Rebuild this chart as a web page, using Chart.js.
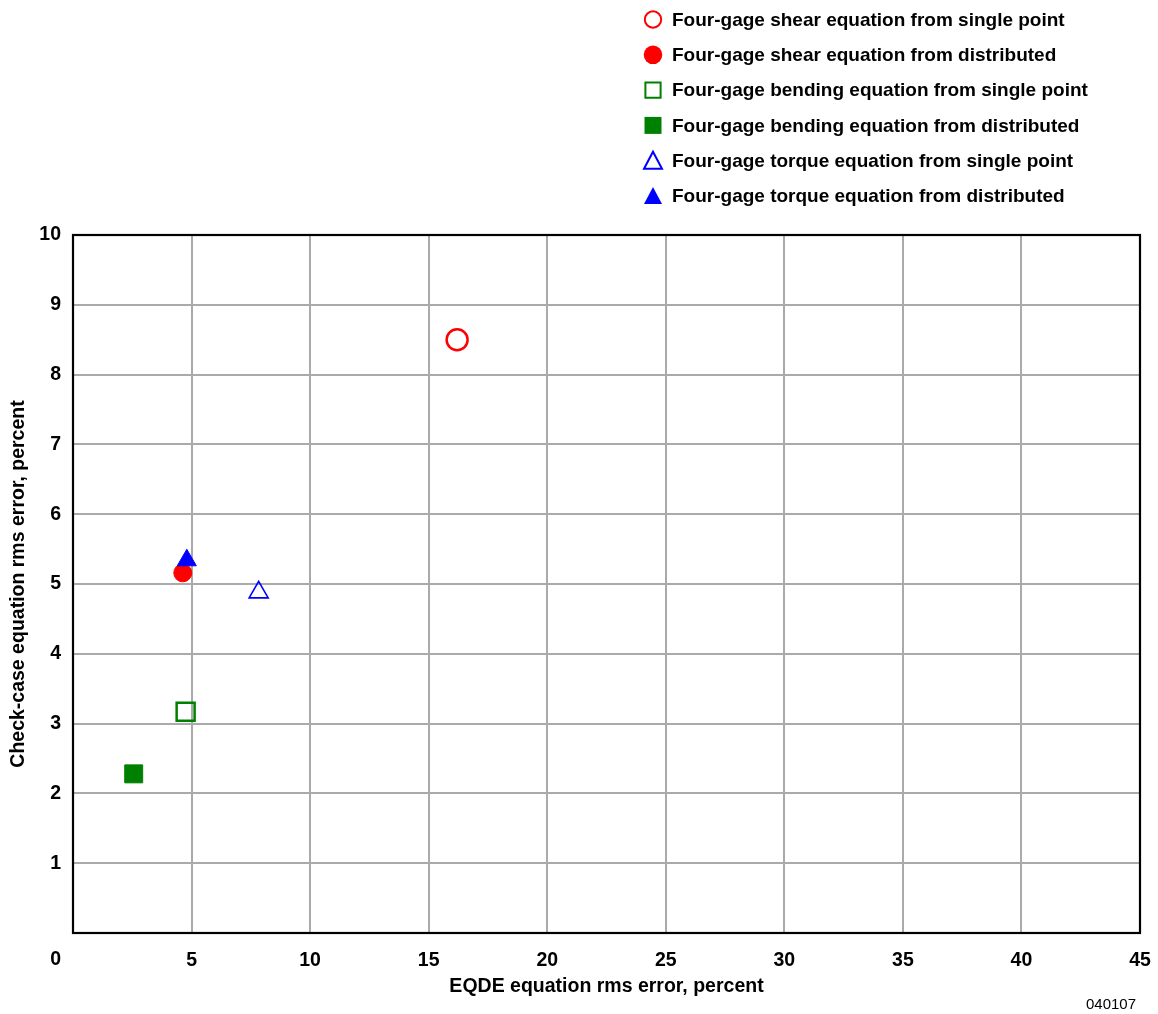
<!DOCTYPE html>
<html>
<head>
<meta charset="utf-8">
<title>Check-case vs EQDE rms error</title>
<script src="https://cdn.jsdelivr.net/npm/chart.js@4/dist/chart.umd.min.js"></script>
<style>
  html, body { margin: 0; padding: 0; background: #ffffff; }
  #wrap { width: 1158px; height: 1014px; position: relative; }
</style>
</head>
<body>
<div id="wrap"><canvas id="chart" width="1158" height="1014"></canvas></div>
<script>
// Series definitions
const seriesLabels = [
  'Four-gage shear equation from single point',
  'Four-gage shear equation from distributed',
  'Four-gage bending equation from single point',
  'Four-gage bending equation from distributed',
  'Four-gage torque equation from single point',
  'Four-gage torque equation from distributed'
];
// EQDE equation rms error, percent (x)
const eqdeError = [16.2, 4.63, 4.75, 2.56, 7.83, 4.80];
// Check-case equation rms error, percent (y)
const checkCaseError = [8.50, 5.16, 3.17, 2.28, 4.88, 5.34];

const xTickValues = [0, 5, 10, 15, 20, 25, 30, 35, 40, 45];
const yTickValues = [0, 1, 2, 3, 4, 5, 6, 7, 8, 9, 10];

const RED = '#ff0000', GREEN = '#008000', BLUE = '#0000ff';
const seriesColors = [RED, RED, GREEN, GREEN, BLUE, BLUE];
const seriesShapes = ['circle', 'circle', 'rect', 'rect', 'triangle', 'triangle'];
const seriesFilled = [false, true, false, true, false, true];
const markerRadius = [10.5, 9, 12.7, 12.7, 11, 11];
const markerBorder = [2.5, 1, 2.5, 1, 1.6, 1];

const FONT = "'Liberation Sans', Arial, Helvetica, sans-serif";
const LABEL_SIZE = 19.5;

const datasets = seriesLabels.map((label, i) => ({
  label,
  data: [{ x: eqdeError[i], y: checkCaseError[i] }],
  pointStyle: seriesShapes[i],
  pointRadius: markerRadius[i],
  pointHoverRadius: markerRadius[i],
  pointBorderWidth: markerBorder[i],
  borderColor: seriesColors[i],
  backgroundColor: seriesFilled[i] ? seriesColors[i] : 'rgba(0,0,0,0)',
  order: seriesLabels.length - 1 - i,
  showLine: false
}));

// Small marker painter used by the legend
function paintMarker(ctx, shape, filled, color, x, y) {
  ctx.save();
  ctx.strokeStyle = color;
  ctx.fillStyle = color;
  ctx.lineWidth = 2;
  ctx.beginPath();
  if (shape === 'circle') {
    ctx.arc(x, y, filled ? 9.3 : 8.2, 0, Math.PI * 2);
  } else if (shape === 'rect') {
    const h = filled ? 8.5 : 7.6;
    ctx.rect(x - h, y - h, 2 * h, 2 * h);
  } else {
    ctx.moveTo(x, y - 9);
    ctx.lineTo(x + 9, y + 8);
    ctx.lineTo(x - 9, y + 8);
    ctx.closePath();
  }
  if (filled) ctx.fill(); else ctx.stroke();
  ctx.restore();
}

const decorations = {
  id: 'decorations',
  beforeDatasetsDraw(chart) {
    const { ctx, chartArea: a } = chart;
    ctx.save();
    ctx.strokeStyle = '#000000';
    ctx.lineWidth = 2.2;
    ctx.strokeRect(a.left, a.top, a.right - a.left, a.bottom - a.top);
    ctx.restore();
  },
  afterDraw(chart) {
    const { ctx, chartArea: a } = chart;
    ctx.save();
    // shared origin label
    ctx.fillStyle = '#000000';
    ctx.font = 'bold ' + LABEL_SIZE + 'px ' + FONT;
    ctx.textAlign = 'right';
    ctx.textBaseline = 'middle';
    ctx.fillText('0', a.left - 12, a.bottom + 27);
    // legend
    ctx.textAlign = 'left';
    ctx.font = 'bold 19px ' + FONT;
    seriesLabels.forEach((label, i) => {
      const y = 19.5 + i * 35.3;
      paintMarker(ctx, seriesShapes[i], seriesFilled[i], seriesColors[i], 653, y);
      ctx.fillStyle = '#000000';
      ctx.fillText(label, 672, y + 1);
    });
    // figure number
    ctx.font = '15px ' + FONT;
    ctx.textAlign = 'right';
    ctx.fillText('040107', 1136, 1005);
    ctx.restore();
  }
};

new Chart(document.getElementById('chart'), {
  type: 'scatter',
  data: { datasets },
  options: {
    responsive: false,
    animation: false,
    devicePixelRatio: 1,
    layout: { padding: { top: 235, right: 18, left: 0, bottom: 0 } },
    plugins: { legend: { display: false }, tooltip: { enabled: false } },
    scales: {
      x: {
        type: 'linear',
        min: 0, max: 45,
        afterBuildTicks: s => { s.ticks = xTickValues.map(v => ({ value: v })); },
        afterFit: s => { s.height = 81; s.paddingLeft = 0; s.paddingRight = 0; },
        grid: { color: '#aaaaaa', lineWidth: 2, drawTicks: false },
        border: { display: false },
        ticks: {
          padding: 16,
          color: '#000000',
          font: { family: FONT, size: LABEL_SIZE, weight: 'bold' },
          callback: v => (v === 0 ? '' : String(v))
        },
        title: {
          display: true,
          text: 'EQDE equation rms error, percent',
          color: '#000000',
          font: { family: FONT, size: LABEL_SIZE, weight: 'bold' },
          padding: { top: 0, bottom: 16 }
        }
      },
      y: {
        type: 'linear',
        min: 0, max: 10,
        afterBuildTicks: s => { s.ticks = yTickValues.map(v => ({ value: v })); },
        afterFit: s => { s.width = 73; s.paddingTop = 0; s.paddingBottom = 0; },
        grid: { color: '#aaaaaa', lineWidth: 2, drawTicks: false },
        border: { display: false },
        ticks: {
          padding: 12,
          color: '#000000',
          font: { family: FONT, size: LABEL_SIZE, weight: 'bold' },
          callback: v => (v === 0 ? '' : String(v))
        },
        title: {
          display: true,
          text: 'Check-case equation rms error, percent',
          color: '#000000',
          font: { family: FONT, size: LABEL_SIZE, weight: 'bold' },
          padding: { top: 7, bottom: 0 }
        }
      }
    }
  },
  plugins: [decorations]
});
</script>
</body>
</html>
